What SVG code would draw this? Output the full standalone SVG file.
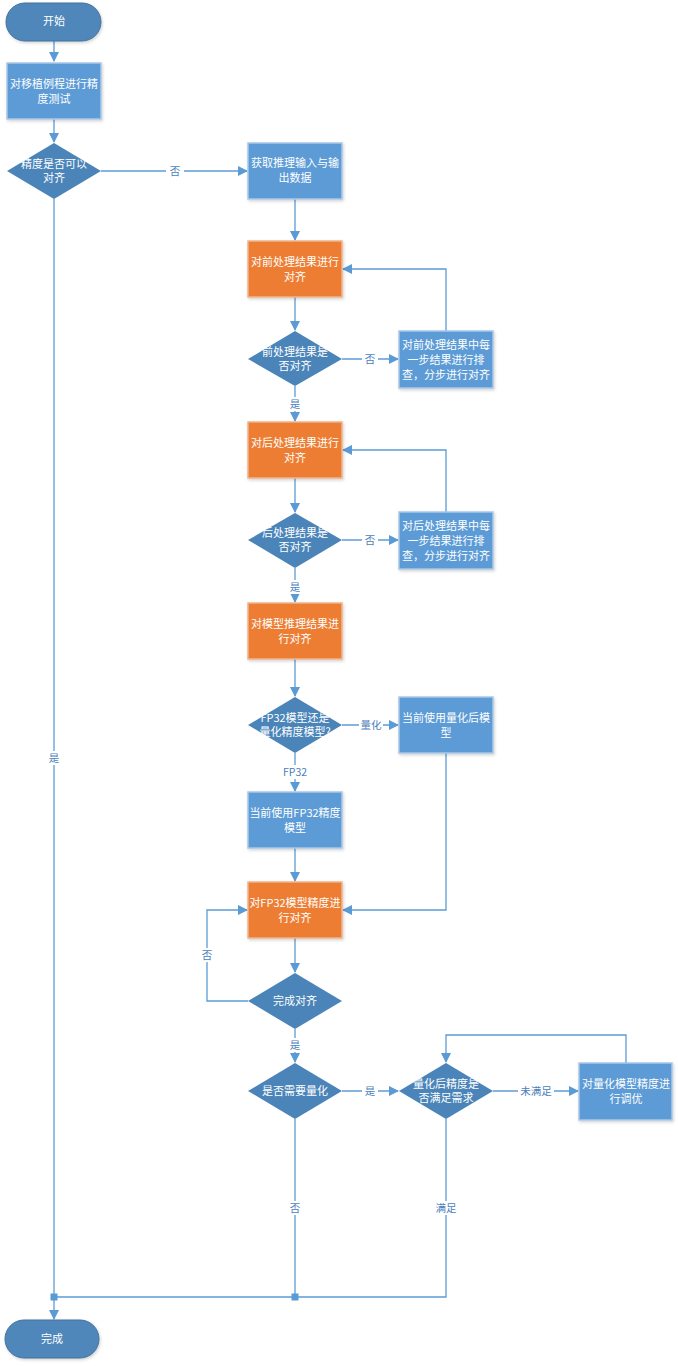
<svg xmlns="http://www.w3.org/2000/svg" width="678" height="1366" viewBox="0 0 678 1366">
<defs>
<marker id="ah" markerWidth="10" markerHeight="10" refX="9" refY="5" orient="auto" markerUnits="userSpaceOnUse">
<path d="M0,0 L10,5 L0,10 Z" fill="#5B9BD5"/>
</marker>
<filter id="sh" x="-10%" y="-10%" width="130%" height="130%">
<feDropShadow dx="1" dy="1.5" stdDeviation="1.5" flood-color="#000" flood-opacity="0.18"/>
</filter>
<style>
.term{fill:#4F87BA;stroke:#41719C;stroke-width:1;filter:url(#sh)}
.box{fill:#5B9BD5;stroke:#A9C8E8;stroke-width:1.5;filter:url(#sh)}
.org{fill:#ED7D31;stroke:#F0B48C;stroke-width:1.5;filter:url(#sh)}
.dia{fill:#4A84B8;stroke:none}
.t{font-family:"Noto Sans CJK SC","Microsoft YaHei",sans-serif;font-size:11px;fill:#fff;text-anchor:middle}
.ln{fill:none;stroke:#5B9BD5;stroke-width:1.3}
.lbl{font-family:"Noto Sans CJK SC","Microsoft YaHei",sans-serif;font-size:10.5px;fill:#4A7EBB;text-anchor:middle}
.lb{fill:#fff}
.sq{fill:#5B9BD5}
</style>
</defs>
<g id="connectors">
<path class="ln" d="M54,41 V61" marker-end="url(#ah)"/>
<path class="ln" d="M54,119 V142" marker-end="url(#ah)"/>
<path class="ln" d="M101,171 H247" marker-end="url(#ah)"/>
<path class="ln" d="M295,199 V240" marker-end="url(#ah)"/>
<path class="ln" d="M295,297 V330" marker-end="url(#ah)"/>
<path class="ln" d="M342,359 H398" marker-end="url(#ah)"/>
<path class="ln" d="M446,331 V269 H343" marker-end="url(#ah)"/>
<path class="ln" d="M295,386 V421" marker-end="url(#ah)"/>
<path class="ln" d="M295,478 V512" marker-end="url(#ah)"/>
<path class="ln" d="M342,540 H398" marker-end="url(#ah)"/>
<path class="ln" d="M446,512 V450 H343" marker-end="url(#ah)"/>
<path class="ln" d="M295,568 V602" marker-end="url(#ah)"/>
<path class="ln" d="M295,659 V696" marker-end="url(#ah)"/>
<path class="ln" d="M342,725 H398" marker-end="url(#ah)"/>
<path class="ln" d="M295,753 V791" marker-end="url(#ah)"/>
<path class="ln" d="M295,848 V881" marker-end="url(#ah)"/>
<path class="ln" d="M446,753 V910 H343" marker-end="url(#ah)"/>
<path class="ln" d="M295,938 V972" marker-end="url(#ah)"/>
<path class="ln" d="M248,1001 H207 V910 H247" marker-end="url(#ah)"/>
<path class="ln" d="M295,1029 V1062" marker-end="url(#ah)"/>
<path class="ln" d="M342,1091 H398" marker-end="url(#ah)"/>
<path class="ln" d="M493,1091 H578" marker-end="url(#ah)"/>
<path class="ln" d="M626,1063 V1035 H446 V1062" marker-end="url(#ah)"/>
<path class="ln" d="M295,1119 V1297"/>
<path class="ln" d="M446,1119 V1297 H54"/>
<path class="ln" d="M54,199 V1319" marker-end="url(#ah)"/>
<rect class="sq" x="50.5" y="1293.5" width="7" height="7"/>
<rect class="sq" x="291.5" y="1293.5" width="7" height="7"/>
<rect class="lb" x="166" y="164" width="18" height="14"/>
<text class="lbl" x="175" y="175">否</text>
<rect class="lb" x="362" y="352" width="16" height="14"/>
<text class="lbl" x="370" y="363">否</text>
<rect class="lb" x="287" y="397" width="16" height="14"/>
<text class="lbl" x="295" y="408">是</text>
<rect class="lb" x="362" y="533" width="16" height="14"/>
<text class="lbl" x="370" y="544">否</text>
<rect class="lb" x="287" y="580" width="16" height="14"/>
<text class="lbl" x="295" y="591">是</text>
<rect class="lb" x="359" y="718" width="24" height="14"/>
<text class="lbl" x="371" y="729">量化</text>
<rect class="lb" x="283" y="765" width="24" height="14"/>
<text class="lbl" x="295" y="776">FP32</text>
<rect class="lb" x="199" y="948" width="16" height="14"/>
<text class="lbl" x="207" y="959">否</text>
<rect class="lb" x="287" y="1038" width="16" height="14"/>
<text class="lbl" x="295" y="1049">是</text>
<rect class="lb" x="362" y="1084" width="16" height="14"/>
<text class="lbl" x="370" y="1095">是</text>
<rect class="lb" x="518" y="1084" width="36" height="14"/>
<text class="lbl" x="536" y="1095">未满足</text>
<rect class="lb" x="287" y="1201" width="16" height="14"/>
<text class="lbl" x="295" y="1212">否</text>
<rect class="lb" x="434" y="1201" width="24" height="14"/>
<text class="lbl" x="446" y="1212">满足</text>
<rect class="lb" x="46" y="751" width="16" height="14"/>
<text class="lbl" x="54" y="762">是</text>
</g>
<g id="start"><rect class="term" x="6" y="3" width="95" height="38" rx="19"/><text class="t" x="54" y="25">开始</text></g>
<g id="test"><rect class="box" x="7" y="63" width="94" height="56"/><text class="t" x="54" y="88">对移植例程进行精</text><text class="t" x="54" y="103">度测试</text></g>
<g id="d1"><polygon class="dia" points="54,143 101,171 54,199 7,171"/><text class="t" x="54" y="168">精度是否可以</text><text class="t" x="54" y="182">对齐</text></g>
<g id="getdata"><rect class="box" x="248" y="143" width="94" height="56"/><text class="t" x="295" y="167">获取推理输入与输</text><text class="t" x="295" y="182">出数据</text></g>
<g id="pre"><rect class="org" x="248" y="241" width="94" height="56"/><text class="t" x="295" y="266">对前处理结果进行</text><text class="t" x="295" y="281">对齐</text></g>
<g id="d2"><polygon class="dia" points="295,331 342,359 295,386 248,359"/><text class="t" x="295" y="356">前处理结果是</text><text class="t" x="295" y="370">否对齐</text></g>
<g id="prefix"><rect class="box" x="399" y="331" width="94" height="57"/><text class="t" x="446" y="349">对前处理结果中每</text><text class="t" x="446" y="364">一步结果进行排</text><text class="t" x="446" y="379">查，分步进行对齐</text></g>
<g id="post"><rect class="org" x="248" y="422" width="94" height="56"/><text class="t" x="295" y="447">对后处理结果进行</text><text class="t" x="295" y="462">对齐</text></g>
<g id="d3"><polygon class="dia" points="295,513 342,540 295,568 248,540"/><text class="t" x="295" y="537">后处理结果是</text><text class="t" x="295" y="551">否对齐</text></g>
<g id="postfix"><rect class="box" x="399" y="512" width="94" height="57"/><text class="t" x="446" y="530">对后处理结果中每</text><text class="t" x="446" y="545">一步结果进行排</text><text class="t" x="446" y="560">查，分步进行对齐</text></g>
<g id="infer"><rect class="org" x="248" y="603" width="94" height="56"/><text class="t" x="295" y="628">对模型推理结果进</text><text class="t" x="295" y="643">行对齐</text></g>
<g id="d4"><polygon class="dia" points="295,697 342,725 295,753 248,725"/><text class="t" x="295" y="722">FP32模型还是</text><text class="t" x="295" y="736">量化精度模型?</text></g>
<g id="quant"><rect class="box" x="399" y="697" width="94" height="56"/><text class="t" x="446" y="722">当前使用量化后模</text><text class="t" x="446" y="737">型</text></g>
<g id="fp32"><rect class="box" x="248" y="792" width="94" height="56"/><text class="t" x="295" y="817">当前使用FP32精度</text><text class="t" x="295" y="832">模型</text></g>
<g id="align"><rect class="org" x="248" y="882" width="94" height="56"/><text class="t" x="295" y="907">对FP32模型精度进</text><text class="t" x="295" y="922">行对齐</text></g>
<g id="d5"><polygon class="dia" points="295,973 342,1001 295,1029 248,1001"/><text class="t" x="295" y="1005">完成对齐</text></g>
<g id="d6"><polygon class="dia" points="295,1063 342,1091 295,1119 248,1091"/><text class="t" x="295" y="1095">是否需要量化</text></g>
<g id="d7"><polygon class="dia" points="446,1063 493,1091 446,1119 399,1091"/><text class="t" x="446" y="1088">量化后精度是</text><text class="t" x="446" y="1102">否满足需求</text></g>
<g id="tune"><rect class="box" x="579" y="1063" width="93" height="57"/><text class="t" x="626" y="1088">对量化模型精度进</text><text class="t" x="626" y="1103">行调优</text></g>
<g id="end"><rect class="term" x="5" y="1320" width="94" height="38" rx="19"/><text class="t" x="52" y="1343">完成</text></g>
</svg>
